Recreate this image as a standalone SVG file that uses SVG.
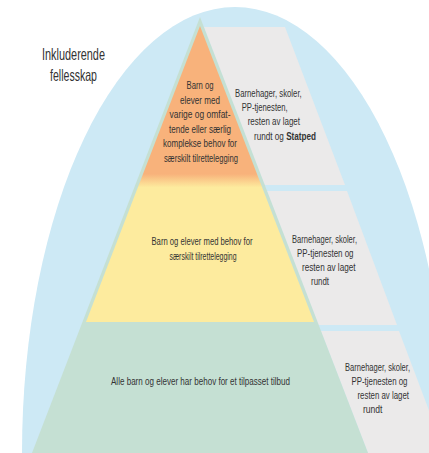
<svg xmlns="http://www.w3.org/2000/svg" width="429" height="453" viewBox="0 0 429 453">
  <style>
    .t { font-family: "Liberation Sans", Arial, sans-serif; font-size: 11px; fill: #333; }
    .m { text-anchor: middle; }
    .lbl { font-family: "Liberation Sans", Arial, sans-serif; font-size: 16.5px; fill: #333; text-anchor: middle; }
    .panel { fill: #ebeaea; }
  </style>
  <defs>
    <linearGradient id="oy" gradientUnits="userSpaceOnUse" x1="0" y1="26" x2="0" y2="322">
      <stop offset="0" stop-color="#f8b27b"/>
      <stop offset="0.5" stop-color="#f8b27b"/>
      <stop offset="0.545" stop-color="#fdeb9e"/>
      <stop offset="1" stop-color="#fdeb9e"/>
    </linearGradient>
  </defs>

  <g id="arch">
    <ellipse cx="235" cy="453" rx="213" ry="446" fill="#cde9f5"/>
  </g>

  <g id="label">
    <text class="lbl" x="73.5" y="60" textLength="63" lengthAdjust="spacingAndGlyphs">Inkluderende</text>
    <text class="lbl" x="73.5" y="81" textLength="47" lengthAdjust="spacingAndGlyphs">fellesskap</text>
  </g>

  <g id="panels">
    <polygon id="panel1" class="panel" points="203.9,27 285,27 345,185 264.7,185"/>
    <polygon id="panel2" class="panel" points="267,191 347,191 397,325 318.6,325"/>
    <polygon id="panel3" class="panel" points="320.9,331 399,331 445,453 368,453"/>
  </g>

  <g id="pyramid">
    <polygon points="200,17 368,453 32,453" fill="#c5e0d3"/>
    <polygon points="200,26 314,322 86,322" fill="url(#oy)"/>
  </g>

  <g id="level-top">
    <text class="t m" x="200" y="89" textLength="27" lengthAdjust="spacingAndGlyphs">Barn og</text>
    <text class="t m" x="200" y="103.5" textLength="40" lengthAdjust="spacingAndGlyphs">elever med</text>
    <text class="t m" x="200" y="118" textLength="61" lengthAdjust="spacingAndGlyphs">varige og omfat-</text>
    <text class="t m" x="200" y="132.5" textLength="62" lengthAdjust="spacingAndGlyphs">tende eller særlig</text>
    <text class="t m" x="200" y="147" textLength="74" lengthAdjust="spacingAndGlyphs">komplekse behov for</text>
    <text class="t m" x="201" y="161.5" textLength="74" lengthAdjust="spacingAndGlyphs">særskilt tilrettelegging</text>
  </g>

  <g id="level-middle">
    <text class="t m" x="202" y="245" textLength="101" lengthAdjust="spacingAndGlyphs">Barn og elever med behov for</text>
    <text class="t m" x="203" y="259.5" textLength="67" lengthAdjust="spacingAndGlyphs">særskilt tilrettelegging</text>
  </g>

  <g id="level-bottom">
    <text class="t m" x="200.5" y="385" textLength="179" lengthAdjust="spacingAndGlyphs">Alle barn og elever har behov for et tilpasset tilbud</text>
  </g>

  <g id="panel1-text">
    <text class="t" x="235" y="96.5" textLength="66.7" lengthAdjust="spacingAndGlyphs">Barnehager, skoler,</text>
    <text class="t" x="241.7" y="111" textLength="46" lengthAdjust="spacingAndGlyphs">PP-tjenesten,</text>
    <text class="t" x="247.7" y="125.3" textLength="52.3" lengthAdjust="spacingAndGlyphs">resten av laget</text>
    <text class="t" x="254" y="139.6" textLength="62" lengthAdjust="spacingAndGlyphs">rundt og <tspan font-weight="bold">Statped</tspan></text>
  </g>

  <g id="panel2-text">
    <text class="t" x="292" y="243" textLength="65" lengthAdjust="spacingAndGlyphs">Barnehager, skoler,</text>
    <text class="t" x="297" y="257" textLength="56.5" lengthAdjust="spacingAndGlyphs">PP-tjenesten og</text>
    <text class="t" x="302" y="271" textLength="53.5" lengthAdjust="spacingAndGlyphs">resten av laget</text>
    <text class="t" x="311" y="285" textLength="18" lengthAdjust="spacingAndGlyphs">rundt</text>
  </g>

  <g id="panel3-text">
    <text class="t" x="345" y="371" textLength="65" lengthAdjust="spacingAndGlyphs">Barnehager, skoler,</text>
    <text class="t" x="351.5" y="385" textLength="56" lengthAdjust="spacingAndGlyphs">PP-tjenesten og</text>
    <text class="t" x="357.5" y="399" textLength="51.5" lengthAdjust="spacingAndGlyphs">resten av laget</text>
    <text class="t" x="363" y="413" textLength="19.5" lengthAdjust="spacingAndGlyphs">rundt</text>
  </g>
</svg>
